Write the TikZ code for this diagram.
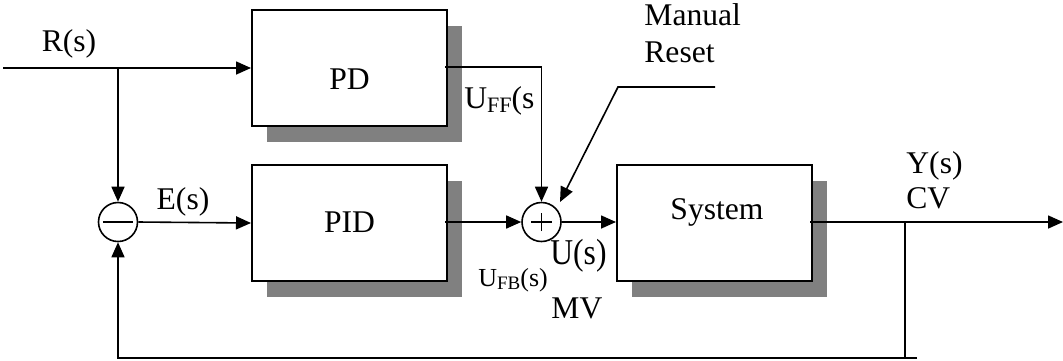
\documentclass[tikz,border=0pt]{standalone}
\usepackage{fontspec}
\setmainfont{Liberation Serif}
\usetikzlibrary{arrows.meta,shadows}
\begin{document}
\begin{tikzpicture}[x=0.5pt,y=-0.5pt,
  blk/.style={draw,line width=1pt,fill=white,minimum width=97.5pt,minimum height=58pt,inner sep=0pt,
    drop shadow={shadow xshift=7.5pt,shadow yshift=-8pt,fill=black!50,opacity=1}},
  sumj/.style={draw,circle,line width=0.8pt,fill=white,minimum size=19.5pt,inner sep=0pt},
  wire/.style={line width=0.8pt},
  arr/.style={wire,-{Triangle[length=7.5pt,width=6.5pt]}},
  lbl/.style={font=\fontsize{15.8}{18}\selectfont,inner sep=0pt},
  sub/.style={font=\fontsize{13}{15}\selectfont,inner sep=0pt}
]
\useasboundingbox (0,0) rectangle (1063,360);
% blocks
\node[blk] (pd) at (349.5,68) {};
\node[blk] (pid) at (349.5,223) {};
\node[blk] (sys) at (714.5,223) {};
\node[sumj] (mn) at (118,222) {};
\node[sumj] (pl) at (541.5,222) {};
\draw[line width=1pt] ([xshift=2.6pt]mn.west) -- ([xshift=-2.6pt]mn.east);
\draw[wire] ([xshift=-5.2pt]pl.center) -- ([xshift=5.2pt]pl.center);
\draw[wire] ([yshift=-4.6pt]pl.center) -- ([yshift=4.6pt]pl.center);
% block texts
\node[lbl] (tpd) at (349.5,79) {PD};
\node[lbl] (tpid) at (349.5,222) {PID};
\node[lbl] (tsys) at (717,212) {System};
% coordinates
\coordinate (in) at (3,68);
\coordinate (b1) at (118,68);
\coordinate (ffc) at (541.5,67);
\coordinate (mr1) at (715,87);
\coordinate (mr2) at (618,87);
\coordinate (mrt) at (560,202);
\coordinate (out) at (1063,222);
\coordinate (b2) at (905,222);
\coordinate (b3) at (905,358);
\coordinate (b4) at (917,358);
\coordinate (b5) at (118,358);
% connectors
\draw[arr] (in) -- (pd.west);
\draw[arr] (b1) -- (mn.north);
\draw[arr] (mn.east) -- (pid.west);
\draw[wire] ([xshift=-1.5pt]pd.east |- ffc) -- (ffc);
\draw[arr] (ffc) -- (pl.north);
\draw[arr] ([xshift=-1.5pt]pid.east |- pl.west) -- (pl.west);
\draw[arr] (mr1) -- (mr2) -- (mrt);
\draw[arr] (pl.east) -- (sys.west |- pl.east);
\draw[arr] ([xshift=-1.5pt]sys.east |- out) -- (out);
\draw[wire] (b2) -- (b3);
\draw[arr] (b4) -- (b5) -- (mn.south);
% labels
\node[lbl] (lr) at (69,44) {R(s)};
\node[lbl] (le) at (183,202) {E(s)};
\node[lbl,anchor=west] (luff) at (464,101) {U\raisebox{-0.3ex}{\fontsize{11}{11}\selectfont FF}(s};
\node[sub,anchor=west] (lufb) at (478,280) {U\raisebox{-0.3ex}{\fontsize{9.5}{10}\selectfont FB}(s)};
\node[lbl,anchor=west] (lu) at (550,256) {\scalebox{1}[1.15]{U(s)}};
\node[lbl,anchor=west] (lmv) at (551,308) {MV};
\node[lbl,anchor=west,align=left,font=\fontsize{15.8}{18.5}\selectfont] (lman) at (644,33.5) {Manual\\Reset};
\node[lbl,anchor=west,align=left,font=\fontsize{15.8}{17.5}\selectfont] (ly) at (906,180.5) {Y(s)\\CV};
\end{tikzpicture}
\end{document}
